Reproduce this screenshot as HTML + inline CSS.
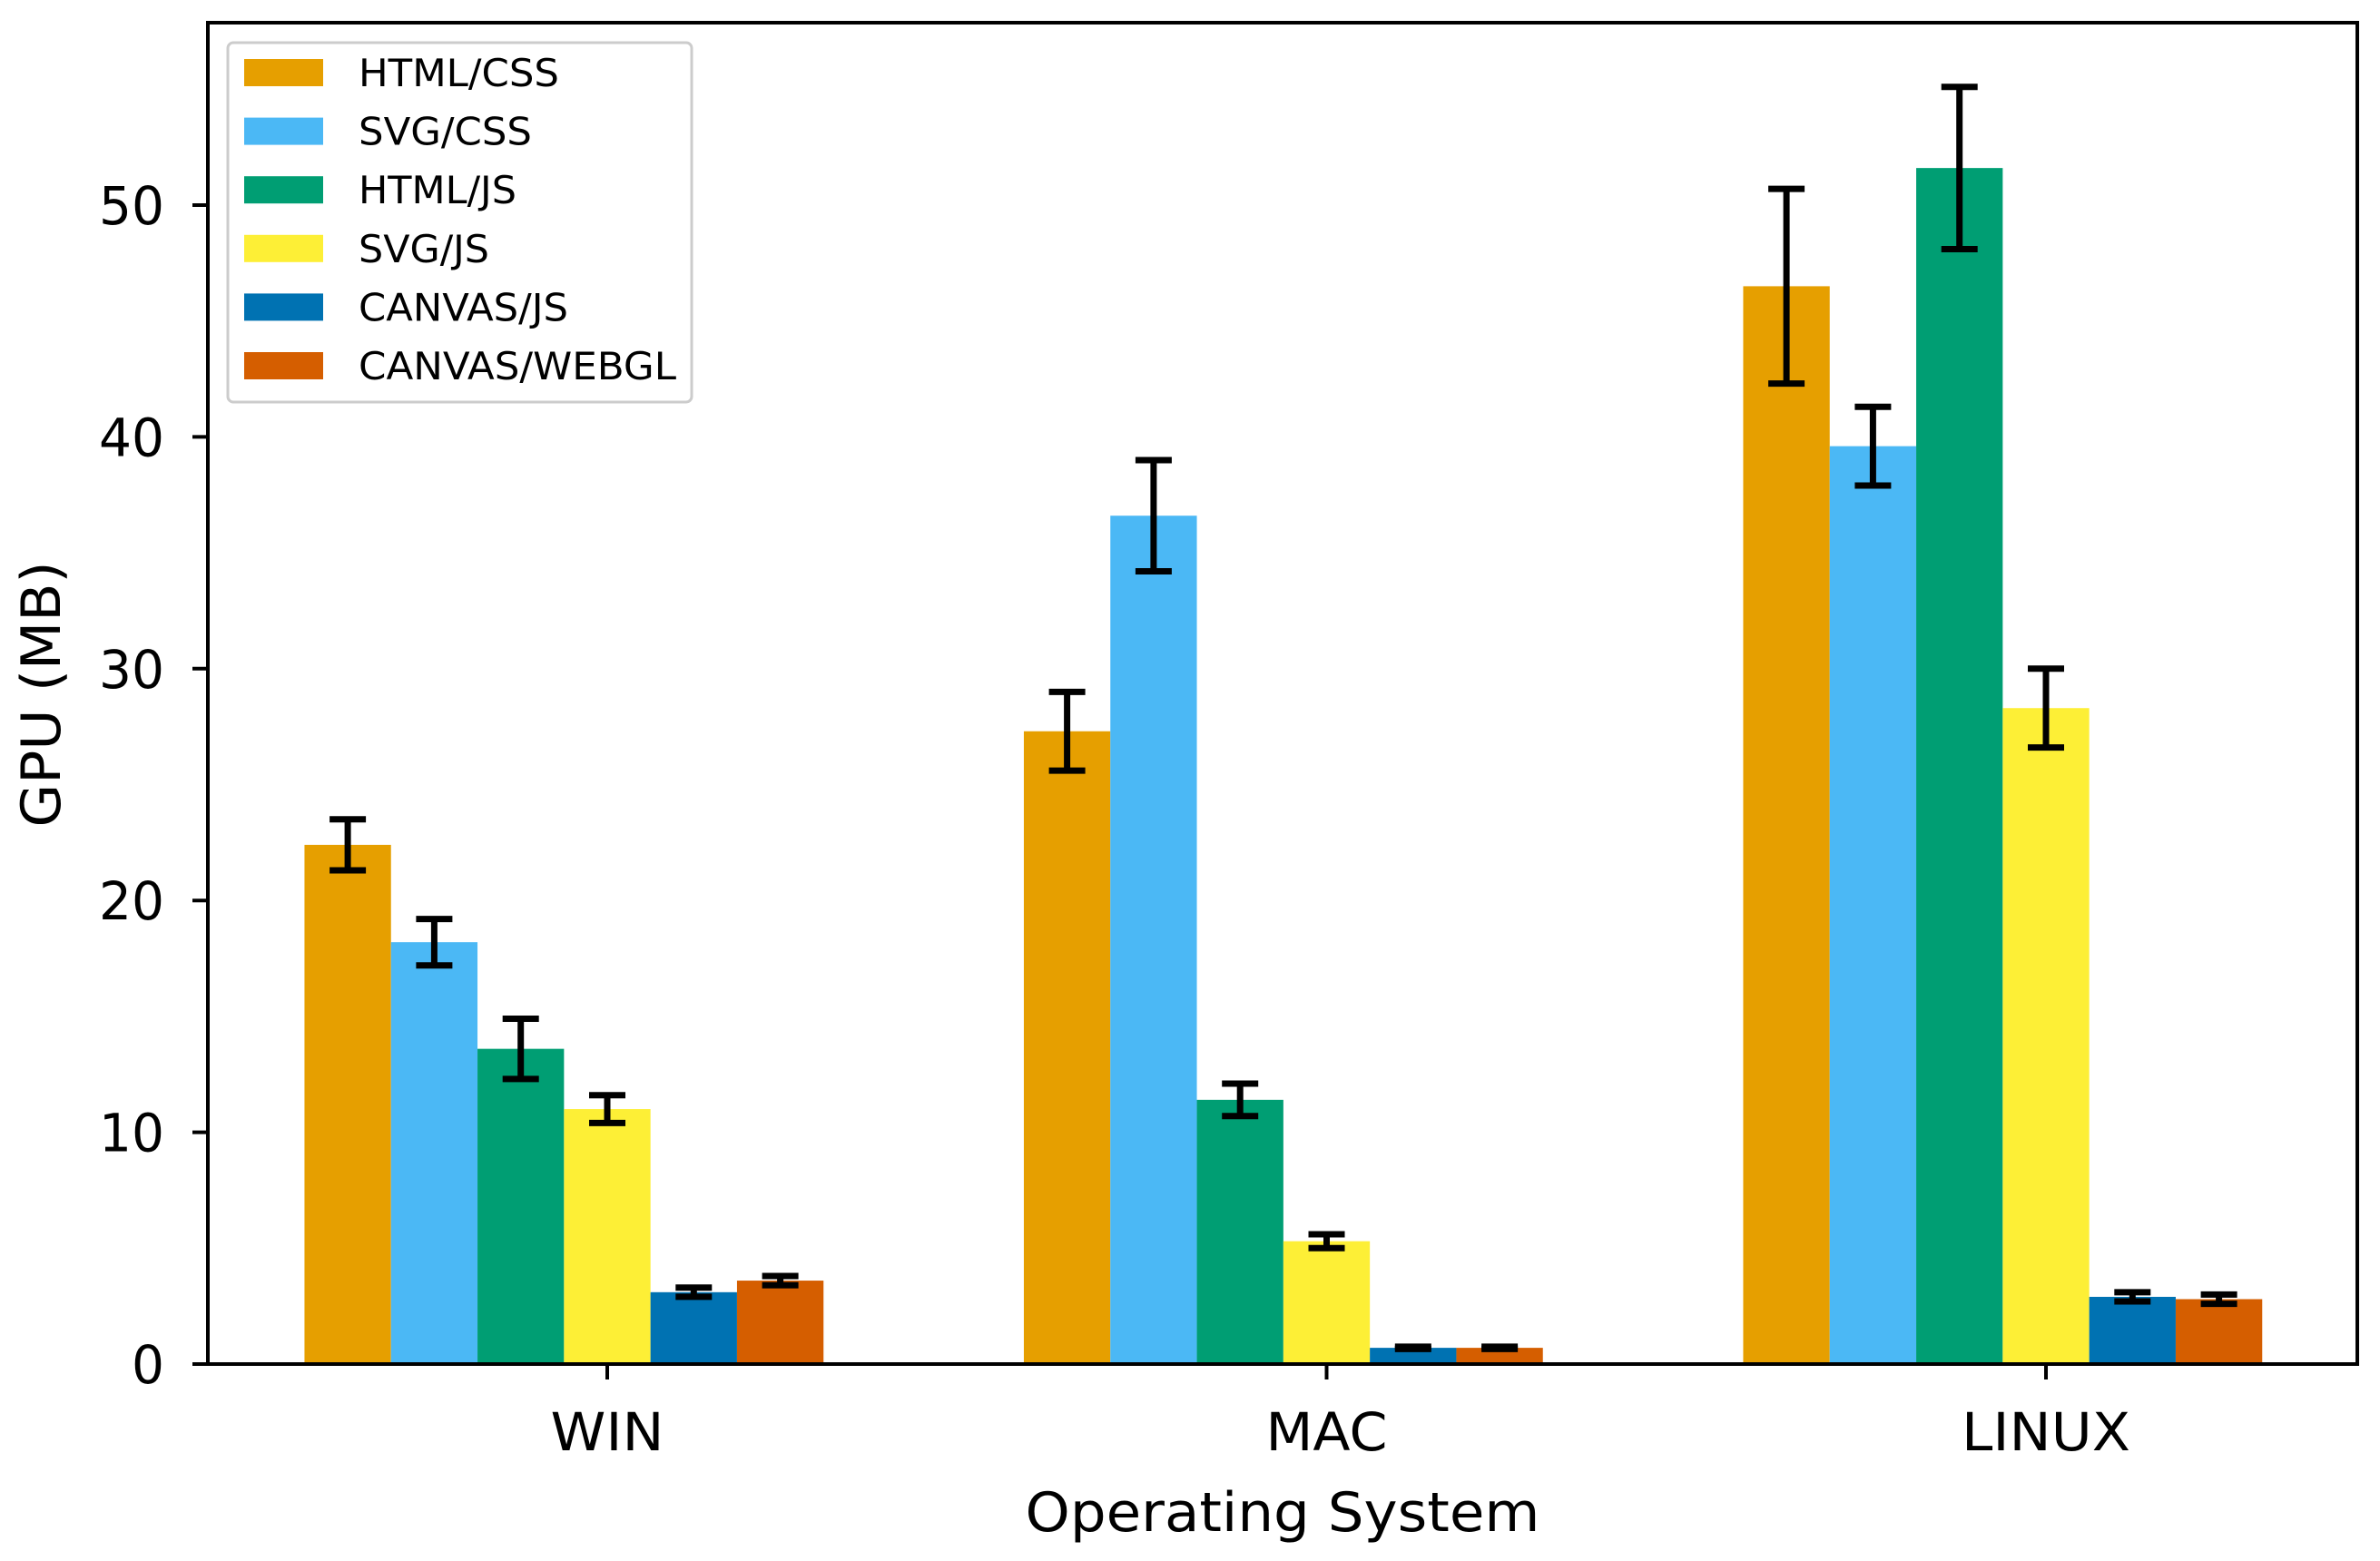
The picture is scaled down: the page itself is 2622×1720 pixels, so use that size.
<!DOCTYPE html>
<html><head><meta charset="utf-8"><style>
html,body{margin:0;padding:0;background:#fff;}
svg{display:block;font-family:"DejaVu Sans","Liberation Sans",sans-serif;}
</style></head><body>
<svg id="chart" width="2622" height="1720" viewBox="0 0 2622 1720" xmlns="http://www.w3.org/2000/svg"></svg>
<script>
const categories = ["WIN", "MAC", "LINUX"];
const seriesNames = ["HTML/CSS", "SVG/CSS", "HTML/JS", "SVG/JS", "CANVAS/JS", "CANVAS/WEBGL"];
const seriesColors = ["#E69F00", "#4BB8F5", "#009E73", "#FDEF36", "#0072B2", "#D55E00"];
const htmlCss = [22.4, 27.3, 46.5];
const svgCss = [18.2, 36.6, 39.6];
const htmlJs = [13.6, 11.4, 51.6];
const svgJs = [11.0, 5.3, 28.3];
const canvasJs = [3.1, 0.7, 2.9];
const canvasWebgl = [3.6, 0.7, 2.8];
const errHtmlCss = [1.1, 1.7, 4.2];
const errSvgCss = [1.0, 2.4, 1.7];
const errHtmlJs = [1.3, 0.7, 3.5];
const errSvgJs = [0.6, 0.3, 1.7];
const errCanvasJs = [0.2, 0.05, 0.2];
const errCanvasWebgl = [0.2, 0.05, 0.2];
const yTicks = [0, 10, 20, 30, 40, 50];

const series = [htmlCss, svgCss, htmlJs, svgJs, canvasJs, canvasWebgl];
const errs = [errHtmlCss, errSvgCss, errHtmlJs, errSvgJs, errCanvasJs, errCanvasWebgl];

const NS = "http://www.w3.org/2000/svg";
const svg = document.getElementById("chart");
const L = 229, R = 2597, T = 25, B = 1503;
const yMax = (B - T) / 25.54;
function y(v){ return B - v / yMax * (B - T); }
const catCenter0 = 669, catStep = 792.5;
function xCat(i){ return catCenter0 + i * catStep; }
const barW = 95.3;

function mk(tag, attrs, parent){
  const e = document.createElementNS(NS, tag);
  for (const k in attrs) e.setAttribute(k, attrs[k]);
  (parent || svg).appendChild(e);
  return e;
}
function fitWidth(t, w){
  t.setAttribute("textLength", w);
  t.setAttribute("lengthAdjust", "spacingAndGlyphs");
}

const barsG = mk("g", {});


series.forEach((vals, s) => {
  vals.forEach((v, i) => {
    const x0 = xCat(i) - 3.5 * barW + s * barW;
    const r = mk("rect", {x: x0, y: y(v), width: barW, height: B - y(v), fill: seriesColors[s]}, barsG);
    
    
  });
});
series.forEach((vals, s) => {
  vals.forEach((v, i) => {
    const cx = xCat(i) - 3.5 * barW + (s + 0.5) * barW;
    const e = errs[s][i];
    const g = mk("g", {stroke: "#000", "stroke-width": 7}, barsG);
    
    
    mk("line", {x1: cx, x2: cx, y1: y(v - e), y2: y(v + e)}, g);
    mk("line", {x1: cx - 20, x2: cx + 20, y1: y(v - e), y2: y(v - e)}, g);
    mk("line", {x1: cx - 20, x2: cx + 20, y1: y(v + e), y2: y(v + e)}, g);
  });
});

const frame = mk("rect", {x: L, y: T, width: R - L, height: B - T, fill: "none", stroke: "#000", "stroke-width": 4});



yTicks.forEach(t => {
  const l = mk("line", {x1: L - 17, x2: L, y1: y(t), y2: y(t), stroke: "#000", "stroke-width": 4});
  
  
  const tx = mk("text", {x: L - 48, y: y(t) + 21, "text-anchor": "end", "font-size": 58});
  tx.textContent = t;
  fitWidth(tx, String(t).length * 36);
  
  
});
const xLabelW = [125, 134, 186];
categories.forEach((c, i) => {
  const l = mk("line", {x1: xCat(i), x2: xCat(i), y1: B, y2: B + 17, stroke: "#000", "stroke-width": 4});
  
  
  const tx = mk("text", {x: xCat(i), y: 1598, "text-anchor": "middle", "font-size": 58});
  tx.textContent = c;
  fitWidth(tx, xLabelW[i]);
  
  
});
const xt = mk("text", {x: 1413, y: 1687, "text-anchor": "middle", "font-size": 60});
xt.textContent = "Operating System";
fitWidth(xt, 567);


const yt = mk("text", {x: 0, y: 0, "text-anchor": "middle", "font-size": 60, transform: "translate(66,765) rotate(-90)"});
yt.textContent = "GPU (MB)";
fitWidth(yt, 293);



const lg = mk("g", {});


mk("rect", {x: 251, y: 47, width: 511, height: 396, rx: 6, fill: "#fff", "fill-opacity": 0.85, stroke: "#ccc", "stroke-width": 3}, lg);
const legendW = [221, 191, 174, 144, 231, 350];
seriesNames.forEach((n, s) => {
  const ry = 80 + s * 64.6;
  const p = mk("rect", {x: 269, y: ry - 15, width: 87, height: 30, fill: seriesColors[s]}, lg);
  
  
  const t = mk("text", {x: 395, y: ry + 15, "font-size": 42}, lg);
  t.textContent = n;
  fitWidth(t, legendW[s]);
  
  
});
</script>
</body></html>
